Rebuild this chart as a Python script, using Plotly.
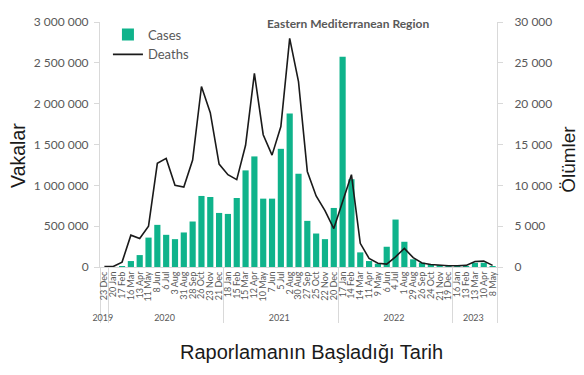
import plotly.graph_objects as go

years = ["2019"] + ["2020"] * 13 + ["2021"] * 13 + ["2022"] * 13 + ["2023"] * 5
dates = ["23 Dec",
         "20 Jan", "17 Feb", "16 Mar", "13 Apr", "11 May", "8 Jun", "6 Jul", "3 Aug", "31 Aug", "28 Sep", "26 Oct", "23 Nov", "21 Dec",
         "18 Jan", "15 Feb", "15 Mar", "12 Apr", "10 May", "7 Jun", "5 Jul", "2 Aug", "30 Aug", "27 Sep", "25 Oct", "22 Nov", "20 Dec",
         "17 Jan", "14 Feb", "14 Mar", "11 Apr", "9 May", "6 Jun", "4 Jul", "1 Aug", "29 Aug", "26 Sep", "24 Oct", "21 Nov", "19 Dec",
         "16 Jan", "13 Feb", "13 Mar", "10 Apr", "8 May"]

cases = [0, 0, 2000, 73000, 146000, 360000, 516000, 394000, 341000, 423000, 557000, 870000, 857000, 662000,
         650000, 845000, 1183000, 1354000, 837000, 837000, 1447000, 1880000, 1142000, 565000, 410000, 341000, 723000,
         2573000, 1075000, 179000, 73000, 40000, 248000, 581000, 309000, 94000, 52000, 37000, 15000, 10000,
         8000, 8000, 52000, 52000, 10000]

deaths = [50, 60, 600, 3900, 3500, 5000, 12700, 13300, 10000, 9800, 13100, 22100, 18900, 12600,
          11300, 10700, 14900, 23700, 16200, 13700, 17200, 28000, 22700, 11700, 8700, 6900, 4700,
          8000, 11300, 2900, 1050, 450, 350, 1250, 2270, 1150, 500, 300, 200, 150,
          150, 200, 680, 720, 200]

x = [years, dates]

grey = "#595959"
axis_grey = "#d9d9d9"
font_fam = "Lato, 'Open Sans', sans-serif"
title_fam = "'Liberation Sans', Arial, sans-serif"

fig = go.Figure()
fig.add_trace(go.Bar(x=x, y=cases, name="Cases", marker=dict(color="#0fb38b", line=dict(width=0)),
                     yaxis="y"))
fig.add_trace(go.Scatter(x=x, y=deaths, name="Deaths", mode="lines",
                         line=dict(color="#1a1a1a", width=1.6), yaxis="y2"))

# page body has an 8px default margin, so the figure is 8px smaller than the window
fig.update_layout(
    width=576, height=367,
    margin=dict(l=92, r=87, t=12, b=108),
    paper_bgcolor="white", plot_bgcolor="white",
    separators=", ",
    bargap=0.3,
    font=dict(family=font_fam, color=grey, size=11),
    showlegend=True,
    legend=dict(x=0.02, y=1.01, xanchor="left", yanchor="top", bgcolor="rgba(0,0,0,0)",
                font=dict(size=13, color=grey), itemwidth=30),
    xaxis=dict(type="multicategory", tickangle=-90, tickfont=dict(size=9, color=grey),
               tickmode="linear", dtick=1,
               showline=True, linecolor=axis_grey, linewidth=1, ticks="",
               showdividers=True, dividercolor=axis_grey, dividerwidth=1,
               showgrid=False, zeroline=False, automargin=False),
    yaxis=dict(range=[0, 3000000], dtick=500000, tickformat=",d", showgrid=False, zeroline=False,
               showline=True, linecolor=axis_grey, ticks="outside", ticklen=5, tickcolor=axis_grey,
               ticklabelstandoff=3,
               tickfont=dict(size=12, color=grey), automargin=False),
    yaxis2=dict(range=[0, 30000], dtick=5000, tickformat=",d", overlaying="y", side="right",
                showgrid=False, zeroline=False, showline=True, linecolor=axis_grey,
                ticks="outside", ticklen=5, tickcolor=axis_grey, ticklabelstandoff=9,
                tickfont=dict(size=12, color=grey), automargin=False),
    annotations=[
        dict(text="<b>Eastern Mediterranean Region</b>", x=(348 - 100) / 397, y=(267 - 22) / 247,
             xref="paper", yref="paper", xanchor="center", yanchor="middle", showarrow=False,
             font=dict(size=12, color=grey)),
        dict(text="Vakalar", x=(18 - 100) / 397, y=(267 - 155) / 247, xref="paper", yref="paper",
             textangle=-90, xanchor="center", yanchor="middle", showarrow=False,
             font=dict(size=19.5, color="#1a1a1a", family=title_fam)),
        dict(text="Ölümler", x=(569 - 100) / 397, y=(267 - 159) / 247, xref="paper", yref="paper",
             textangle=-90, xanchor="center", yanchor="middle", showarrow=False,
             font=dict(size=19, color="#1a1a1a", family=title_fam)),
        dict(text="Raporlamanın Başladığı Tarih", x=(311 - 100) / 397, y=(267 - 353) / 247,
             xref="paper", yref="paper", xanchor="center", yanchor="middle", showarrow=False,
             font=dict(size=20, color="#1a1a1a", family=title_fam)),
    ],
)

fig.write_html("out.html")
